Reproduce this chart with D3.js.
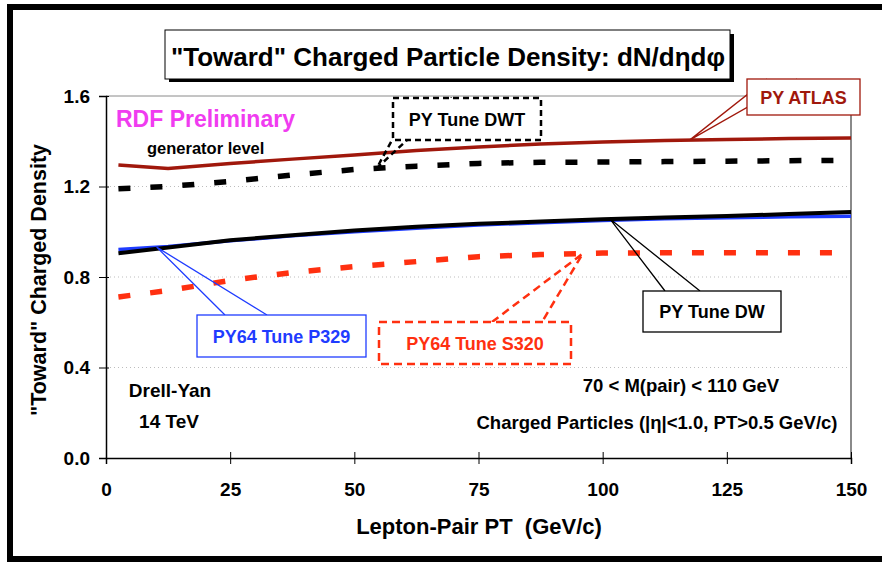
<!DOCTYPE html>
<html>
<head>
<meta charset="utf-8">
<script src="https://cdn.jsdelivr.net/npm/d3@7"></script>
<style>
  html, body { margin: 0; padding: 0; background: #fff; }
  svg { display: block; font-family: "Liberation Sans", Arial, sans-serif; font-weight: bold; }
  text { white-space: pre; }
</style>
</head>
<body>
<svg id="chart" width="882" height="562"></svg>
<script>
// Lepton-pair PT bins (GeV/c)
const pt = [2.5, 12.5, 25, 37.5, 50, 62.5, 75, 87.5, 100, 112.5, 125, 137.5, 150];

// "Toward" charged particle density for each tune
const pyAtlas = [1.295, 1.280, 1.302, 1.321, 1.339, 1.359, 1.375, 1.388, 1.397, 1.403, 1.408, 1.412, 1.414];
const pyDWT   = [1.190, 1.200, 1.222, 1.251, 1.275, 1.290, 1.302, 1.307, 1.308, 1.310, 1.312, 1.314, 1.316];
const pyDW    = [0.905, 0.930, 0.962, 0.985, 1.005, 1.022, 1.035, 1.045, 1.055, 1.063, 1.070, 1.078, 1.087];
const py64P329 = [0.922, 0.935, 0.960, 0.982, 1.000, 1.015, 1.030, 1.040, 1.050, 1.057, 1.062, 1.066, 1.068];
const py64S320 = [0.712, 0.740, 0.785, 0.820, 0.846, 0.868, 0.890, 0.899, 0.906, 0.907, 0.907, 0.907, 0.907];

const xTicks = [0, 25, 50, 75, 100, 125, 150];
const yTicks = [0.0, 0.4, 0.8, 1.2, 1.6];

const svg = d3.select("#chart");
const x = d3.scaleLinear().domain([0, 150]).range([106, 851]);
const y = d3.scaleLinear().domain([0, 1.6]).range([458, 96]);
const FONT = "Liberation Sans, Arial, sans-serif";

// outer slide frame
svg.append("rect").attr("x", 10).attr("y", 7).attr("width", 900).attr("height", 552)
  .attr("fill", "none").attr("stroke", "#000").attr("stroke-width", 6);

// grid lines
svg.append("g").selectAll("line").data(yTicks.filter(d => d > 0 && d < 1.6)).join("line")
  .attr("x1", x(0)).attr("x2", x(150)).attr("y1", d => y(d)).attr("y2", d => y(d))
  .attr("stroke", "#bdbdbd").attr("stroke-width", 1).attr("stroke-dasharray", "1,3");

// plot frame top / right
svg.append("line").attr("x1", x(0)).attr("x2", x(150)).attr("y1", y(1.6)).attr("y2", y(1.6))
  .attr("stroke", "#8a8a8a").attr("stroke-width", 1);
svg.append("line").attr("x1", x(150)).attr("x2", x(150)).attr("y1", y(1.6)).attr("y2", y(0))
  .attr("stroke", "#8a8a8a").attr("stroke-width", 2);

// axes
const xAxis = svg.append("g").attr("transform", `translate(0,${y(0)})`)
  .call(d3.axisBottom(x).tickValues(xTicks).tickSize(6).tickPadding(19).tickFormat(d3.format("d")));
xAxis.select(".domain").attr("stroke", "#000").attr("stroke-width", 1.5);
xAxis.selectAll(".tick line").attr("y1", -6).attr("stroke", "#000");
xAxis.selectAll("text").attr("font-size", 19).attr("font-family", FONT)
  .attr("font-weight", "bold").attr("fill", "#000");

const yAxis = svg.append("g").attr("transform", `translate(${x(0)},0)`)
  .call(d3.axisLeft(y).tickValues(yTicks).tickSize(7).tickPadding(9).tickFormat(d3.format(".1f")));
yAxis.select(".domain").attr("stroke", "#000").attr("stroke-width", 1.5);
yAxis.selectAll(".tick line").attr("x1", -7).attr("x2", 3).attr("stroke", "#000");
yAxis.selectAll("text").attr("font-size", 19).attr("font-family", FONT)
  .attr("font-weight", "bold").attr("fill", "#000");

// axis titles
svg.append("text").attr("x", 479).attr("y", 534).attr("text-anchor", "middle")
  .attr("font-size", 22).text("Lepton-Pair PT  (GeV/c)");
svg.append("text").attr("transform", "translate(46,280) rotate(-90)").attr("text-anchor", "middle")
  .attr("font-size", 21.5).text("\"Toward\" Charged Density");

// series
const series = [
  { name: "PY ATLAS", values: pyAtlas, color: "#a0180c", width: 3.5, dash: null },
  { name: "PY Tune DWT", values: pyDWT, color: "#000", width: 5.5, dash: "12,20" },
  { name: "PY64 Tune P329", values: py64P329, color: "#1f3cff", width: 3.5, dash: null },
  { name: "PY Tune DW", values: pyDW, color: "#000", width: 4, dash: null },
  { name: "PY64 Tune S320", values: py64S320, color: "#ff3010", width: 5.5, dash: "12,20" }
];
const line = d3.line().x(d => x(d[0])).y(d => y(d[1]));
svg.append("g").selectAll("path").data(series).join("path")
  .attr("d", s => line(pt.map((p, i) => [p, s.values[i]])))
  .attr("fill", "none").attr("stroke", s => s.color).attr("stroke-width", s => s.width)
  .attr("stroke-dasharray", s => s.dash);

// value of a series at a given PT (for callout tips)
function valueAt(vals, p) {
  for (let i = 0; i < pt.length - 1; i++) {
    if (p >= pt[i] && p <= pt[i + 1]) {
      const t = (p - pt[i]) / (pt[i + 1] - pt[i]);
      return vals[i] + t * (vals[i + 1] - vals[i]);
    }
  }
  return vals[vals.length - 1];
}

// callout labels
const callouts = [
  { text: "PY ATLAS", vals: pyAtlas, tipPt: 117.5, box: [747, 79, 113, 36], base: [767, 797], color: "#a0180c", dash: null },
  { text: "PY Tune DWT", vals: pyDWT, tipPt: 54.5, box: [393, 98, 148, 42], base: [415, 452], color: "#000", dash: "6,4" },
  { text: "PY64 Tune P329", vals: py64P329, tipPt: 10.2, box: [197, 315, 169, 42], base: [225, 267], color: "#1f3cff", dash: null },
  { text: "PY64 Tune S320", vals: py64S320, tipPt: 96, box: [379, 322, 192, 42], base: [492, 542], color: "#ff3010", dash: "8,5" },
  { text: "PY Tune DW", vals: pyDW, tipPt: 101.5, box: [643, 291, 138, 41], base: [665, 700], color: "#000", dash: null }
];
const cg = svg.append("g");
callouts.forEach(c => {
  const tx = x(c.tipPt), ty = y(valueAt(c.vals, c.tipPt));
  const [bx, by, bw, bh] = c.box;
  const sw = c.dash ? 2.5 : 1.3;
  cg.append("polyline")
    .attr("points", `${c.base[0]},${by} ${tx},${ty} ${c.base[1]},${by}`)
    .attr("fill", "none").attr("stroke", c.color).attr("stroke-width", sw)
    .attr("stroke-dasharray", c.dash);
  cg.append("rect").attr("x", bx).attr("y", by).attr("width", bw).attr("height", bh)
    .attr("fill", "#fff").attr("stroke", c.color).attr("stroke-width", sw)
    .attr("stroke-dasharray", c.dash);
  cg.append("text").attr("x", bx + bw / 2).attr("y", by + bh / 2 + 6.5).attr("text-anchor", "middle")
    .attr("font-size", 18).attr("fill", c.color).text(c.text);
});

// title box with shadow
svg.append("rect").attr("x", 169).attr("y", 34).attr("width", 565).attr("height", 48).attr("fill", "#000");
svg.append("rect").attr("x", 165).attr("y", 30).attr("width", 565).attr("height", 49)
  .attr("fill", "#fff").attr("stroke", "#000").attr("stroke-width", 1);
svg.append("text").attr("x", 448).attr("y", 66).attr("text-anchor", "middle").attr("font-size", 26)
  .text("\"Toward\" Charged Particle Density: dN/dηdφ");

// free text
svg.append("text").attr("x", 116).attr("y", 127).attr("font-size", 23).attr("fill", "#f03cf0").text("RDF Preliminary");
svg.append("text").attr("x", 147).attr("y", 154).attr("font-size", 16.5).text("generator level");
svg.append("text").attr("x", 170).attr("y", 397).attr("text-anchor", "middle").attr("font-size", 19).text("Drell-Yan");
svg.append("text").attr("x", 169).attr("y", 428).attr("text-anchor", "middle").attr("font-size", 19).text("14 TeV");
svg.append("text").attr("x", 681).attr("y", 392).attr("text-anchor", "middle").attr("font-size", 18.5).text("70 < M(pair) < 110 GeV");
svg.append("text").attr("x", 657).attr("y", 429).attr("text-anchor", "middle").attr("font-size", 18.5).text("Charged Particles (|η|<1.0, PT>0.5 GeV/c)");
</script>
</body>
</html>
